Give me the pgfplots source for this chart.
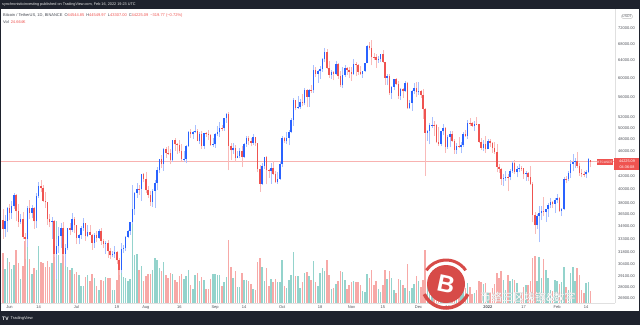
\documentclass[border=0pt]{standalone}
\usepackage{pgfplots}
\pgfplotsset{compat=1.18}
\usepackage{pgfplotstable}
\usepackage{fontspec}
\setmainfont{Liberation Sans}
\newfontfamily\cjk{Noto Sans CJK SC}
\definecolor{tvup}{HTML}{2962FF}
\definecolor{tvdn}{HTML}{EF5350}
\definecolor{vupl}{HTML}{94D3CC}
\definecolor{vdnl}{HTML}{F7A9A7}
\definecolor{tvdark}{HTML}{1E222D}
\definecolor{tvtext}{HTML}{131722}

\pgfplotstableread{
d o h l c v u
-4 38437 38856 34684 35672 144 0
-3 35672 37235 33379 34608 98 0
-2 34608 36400 33520 35658 68 1
-1 35658 37499 34154 37294 89 1
0 37294 37896 35667 36687 81 0
1 36687 38237 35920 37555 68 1
2 37555 39476 37171 39188 75 1
3 39188 39289 35555 36856 104 0
4 36856 37916 34800 35521 78 0
5 35521 36481 35222 35796 47 1
6 35796 36790 33350 33552 73 0
7 33552 34069 31000 33380 123 0
8 33380 37534 32396 37389 111 1
9 37389 38400 35800 36694 86 0
10 36694 37680 35936 37313 57 1
11 37313 37438 34600 35546 70 0
12 35546 39380 34757 39020 66 1
13 39020 41064 38730 40516 113 1
14 40516 41330 39506 40144 80 0
15 40144 40528 38116 38349 78 0
16 38349 39559 37365 38092 72 0
17 38092 38202 35129 35820 83 0
18 35820 36457 34803 35483 72 0
19 35483 36137 33336 35600 79 1
20 35600 35750 31251 31608 131 0
21 31608 33298 28805 32509 162 1
22 32509 34881 31683 33678 94 1
23 33678 35298 32286 34663 79 1
24 34663 35500 31275 31594 97 0
25 31594 32730 30151 32243 84 1
26 32243 34749 31973 34700 71 1
27 34700 35297 33862 34494 65 0
28 34494 36600 34225 35911 69 1
29 35911 36100 34017 35045 57 0
30 35045 35057 32711 33504 61 0
31 33504 33977 32699 33787 55 1
32 33787 34945 33316 34669 34 1
33 34669 35967 34357 35287 33 1
34 35287 35293 33125 33690 52 0
35 33690 35118 33532 34220 55 1
36 34220 35059 33777 33863 44 0
37 33863 33929 32077 32875 57 0
38 32875 34100 32261 33815 50 1
39 33815 34262 33005 33502 33 0
40 33502 34592 33332 34259 26 1
41 34259 34679 32658 33087 45 0
42 33087 33340 32203 32729 44 0
43 32729 33115 31600 32820 52 1
44 32820 33185 31133 31880 49 0
45 31880 32249 31020 31384 49 0
46 31384 31936 31165 31521 26 1
47 31521 32435 31109 31778 26 1
48 31778 31899 30408 30839 45 0
49 30839 31063 29278 29790 72 0
50 29790 32858 29482 32144 88 1
51 32144 32591 31708 32287 52 1
52 32287 33650 31925 33634 50 1
53 33634 34500 33401 34258 43 1
54 34258 35398 33851 35425 48 1
55 35425 40550 35205 37208 163 1
56 37208 39542 36383 39457 95 1
57 39457 40900 38772 40019 97 1
58 40019 40640 39200 40016 66 0
59 40016 42316 38313 42206 73 1
60 42206 42448 41000 41462 44 0
61 41462 42599 39422 39846 54 0
62 39846 40459 38690 39147 58 0
63 39147 39780 37642 38207 58 0
64 38207 39969 37508 39723 66 1
65 39723 41350 37332 40867 88 1
66 40867 43392 39853 42836 84 1
67 42836 44700 42446 44614 70 1
68 44614 45310 43261 43792 64 0
69 43792 46454 42779 46285 80 1
70 46285 46700 44800 45579 55 0
71 45579 46743 45342 45541 50 0
72 45541 46218 43770 44399 60 0
73 44399 47886 44217 47800 57 1
74 47800 48144 45971 47068 46 0
75 47068 47372 45500 46974 41 0
76 46974 47889 45600 45901 53 0
77 45901 47160 44376 44695 57 0
78 44695 46000 44203 44705 47 1
79 44705 47033 43927 46760 54 1
80 46760 49382 46622 49322 66 1
81 49322 49757 48263 48821 35 0
82 48821 49500 48000 49239 27 1
83 49239 50500 49029 49507 55 1
84 49507 49863 47600 47674 60 0
85 47674 49277 47122 48973 43 1
86 48973 49380 46315 46843 52 0
87 46843 49150 46364 49069 46 1
88 49069 49309 48370 48895 27 0
89 48895 49667 47801 48768 27 0
90 48768 48888 46854 46970 47 0
91 46970 48246 46700 47100 58 1
92 47100 49156 46513 48810 57 1
93 48810 50401 48584 49246 55 1
94 49246 51000 48316 49999 56 1
95 49999 50558 49400 49915 34 0
96 49915 51900 49500 51756 42 1
97 51756 52780 50969 52663 51 1
98 52663 52920 42843 46863 124 0
99 46863 47340 44412 46048 72 0
100 46048 47399 45513 46395 50 1
101 46395 47034 44132 44851 64 0
102 44851 45970 44722 45172 31 1
103 45172 46460 44742 46026 32 1
104 46026 46876 43370 44940 60 0
105 44940 47250 44750 47112 45 1
106 47112 48500 46700 48122 45 1
107 48122 48500 47045 47737 43 0
108 47737 48176 46750 47299 37 0
109 47299 48843 47050 48292 27 1
110 48292 48372 46829 47242 25 0
111 47242 47358 42500 42987 80 0
112 42987 43639 39600 40712 88 0
113 40712 44000 40565 43574 71 1
114 43574 44978 43063 44895 43 1
115 44895 45200 40675 42839 69 0
116 42839 42971 41646 42716 34 0
117 42716 43937 40803 43208 48 1
118 43208 44350 42098 42236 42 0
119 42236 42787 40888 41035 47 0
120 41035 42636 40753 41564 42 1
121 41564 44141 41410 43790 42 1
122 43790 48495 43283 48116 85 1
123 48116 48360 47400 47711 34 0
124 47711 49300 47119 48200 30 1
125 48200 49536 46891 49225 45 1
126 49225 51886 49000 51472 55 1
127 51472 55750 50382 55315 101 1
128 55315 55332 53357 53785 54 0
129 53785 56100 53617 53951 53 1
130 53951 55490 53661 54950 30 1
131 54950 56561 54080 54660 42 0
132 54660 57839 54415 57471 60 1
133 57471 57680 53879 56006 62 0
134 56006 57580 54000 57368 54 1
135 57368 58532 56819 57347 46 0
136 57347 62933 56850 61672 82 1
137 61672 62378 60150 60875 42 0
138 60875 61720 58963 61529 34 1
139 61529 62695 59844 62036 60 1
140 62036 64486 61322 64262 69 1
141 64262 67000 63481 65992 63 1
142 65992 66639 62000 62210 84 0
143 62210 63732 60000 60693 56 0
144 60693 61750 59678 61300 27 1
145 61300 61490 59510 60853 30 0
146 60853 63710 60650 63078 37 1
147 63078 63293 59817 60329 43 0
148 60329 61497 58000 58413 63 0
149 58413 62499 57820 60575 61 1
150 60575 62980 60174 62253 46 1
151 62253 62359 60673 61859 27 0
152 61859 62405 59945 61300 35 0
153 61300 62437 59405 60912 41 0
154 60912 64270 60624 63219 44 1
155 63219 63500 60382 62897 41 0
156 62897 63086 60677 61395 41 0
157 61395 62595 60721 60937 36 0
158 60937 61560 60050 61470 24 1
159 61470 63287 61322 63273 21 1
160 63273 67789 63273 67525 58 1
161 67525 68524 66382 66947 50 0
162 66947 69000 62822 64882 66 0
163 64882 65600 64100 64775 35 0
164 64775 65500 62278 64122 44 0
165 64122 64990 63400 64380 27 1
166 64380 65550 63577 65520 22 1
167 65520 66401 63400 63607 35 0
168 63607 63617 58574 60058 65 0
169 60058 60840 58373 60345 47 1
170 60345 60976 56474 56892 63 0
171 56892 58320 55600 58052 49 1
172 58052 59845 57353 59708 25 1
173 59708 60050 58486 58622 20 0
174 58622 59266 55610 56248 48 0
175 56248 57875 55317 57541 46 1
176 57541 57735 55837 57139 36 0
177 57139 59398 57000 58960 30 1
178 58960 59150 53500 53727 77 0
179 53727 55280 53610 54721 24 1
180 54721 57445 53256 57274 30 1
181 57274 58865 56666 57776 38 1
182 57776 59176 55875 56950 54 0
183 56950 59053 56458 57184 44 1
184 57184 57375 55777 56480 31 0
185 56480 57600 51680 53601 46 0
186 53601 53859 42000 49152 105 0
187 49152 49699 47727 49396 39 1
188 49396 50891 47100 50441 54 1
189 50441 51936 50039 50588 40 1
190 50588 51200 48600 50471 37 0
191 50471 50797 47320 47545 43 0
192 47545 50125 46852 47140 43 0
193 47140 49485 46751 49389 26 1
194 49389 50777 48638 50053 21 1
195 50053 50189 45672 46702 48 0
196 46702 48700 46290 48343 42 1
197 48343 49500 46547 48864 54 1
198 48864 49436 47511 47632 34 0
199 47632 47995 45456 46131 49 0
200 46131 47313 45500 46834 29 1
201 46834 48300 46406 46681 26 0
202 46681 47537 45558 46914 38 1
203 46914 49328 46630 48890 39 1
204 48890 49576 48421 48588 30 0
205 48588 51375 48049 50838 39 1
206 50838 51810 50391 50820 31 0
207 50820 51156 50237 50400 18 0
208 50400 51280 49412 50775 20 1
209 50775 52088 50449 50701 26 0
210 50701 50704 47313 47543 44 0
211 47543 48139 46096 46464 42 0
212 46464 47900 45900 47120 37 1
213 47120 48548 45678 46216 40 0
214 46216 47954 46208 47722 21 1
215 47722 47990 46654 47287 19 0
216 47287 47570 45697 46446 30 0
217 46446 47505 45502 45833 38 0
218 45833 47070 42500 43425 60 0
219 43425 43817 42431 43082 50 0
220 43082 43145 40610 41566 64 0
221 41566 42300 40501 41679 46 1
222 41679 42786 41200 41864 25 1
223 41864 42249 39650 41822 55 0
224 41822 43100 41268 42736 44 1
225 42736 44322 42451 43949 47 1
226 43949 44459 42311 42592 46 0
227 42592 43447 41725 43099 39 1
228 43099 43800 42555 43177 20 1
229 43177 43476 42691 43113 20 0
230 43113 43180 41541 42250 31 0
231 42250 42691 41250 42375 35 1
232 42375 42576 41138 41744 36 0
233 41744 43505 40553 40680 43 0
234 40680 41100 35440 36445 89 0
235 36445 36835 34009 35071 92 0
236 35071 36499 34601 36244 43 1
237 36244 37550 32917 36660 91 1
238 36660 37545 35701 36958 49 1
239 36958 38919 36234 36810 86 0
240 36810 37234 35507 37160 66 1
241 37160 38000 36155 37717 50 1
242 37717 38720 37268 38166 26 1
243 38166 38359 37351 37881 24 0
244 37881 38744 36632 38467 46 1
245 38467 39265 38000 38744 43 1
246 38744 38834 36832 36952 37 0
247 36952 37387 36250 37154 42 1
248 37154 41772 37052 41500 71 1
249 41500 41913 40844 41441 32 0
250 41441 42656 41116 42412 26 1
251 42412 44500 41645 43841 60 1
252 43841 45492 42666 44118 72 1
253 44118 44799 43117 44339 44 1
254 44339 45821 43187 43565 69 0
255 43565 43920 42000 42407 55 0
256 42407 43000 41748 42244 25 0
257 42244 42760 41870 42197 19 0
258 42197 42876 41570 42586 39 1
259 42586 44771 42428 44575 42 1
260 44544.85 44549.97 43307 44225.09 24.664 0
}\btc

\pgfplotsset{
  upsel/.style={restrict expr to domain={\thisrow{u}}{0.5:1.5}},
  dnsel/.style={restrict expr to domain={\thisrow{u}}{-0.5:0.5}},
  tvframe/.style={at={(0pt,22pt)}, anchor=south west, scale only axis,
    width=615pt, height=294pt, xmin=-4.25, xmax=270.9},
  candle/.style 2 args={draw=none, mark=none, forget plot,
    error bars/.cd, y dir=plus, y explicit, error mark=none,
    error bar style={line width=#1, draw=#2, solid}},
}

\begin{document}
\begin{tikzpicture}[x=1pt,y=1pt]
\useasboundingbox (0pt,0pt) rectangle (640pt,325pt);
\fill[white] (0pt,0pt) rectangle (640pt,325pt);

% ---- volume overlay ----
\begin{axis}[tvframe, ymin=0, ymax=580, hide axis]
\addplot[ycomb, line width=1.5pt, color=vupl, mark=none, upsel] table[x=d,y=v]{\btc};
\addplot[ycomb, line width=1.5pt, color=vdnl, mark=none, dnsel] table[x=d,y=v]{\btc};
\end{axis}

% ---- price axis ----
\begin{axis}[tvframe, ymode=log, ymin=26390, ymax=77180,
  axis x line*=bottom, axis y line*=right,
  axis line style={draw=black!12, -, line width=0.5pt},
  major tick length=0pt,
  ytick={72000,68000,64000,60000,56000,52000,50000,48000,46000,42000,40000,38000,36500,34900,33300,31800,30400,29100,28000,26900},
  yticklabels={72000.00,68000.00,64000.00,60000.00,56000.00,52000.00,50000.00,48000.00,46000.00,42000.00,40000.00,38000.00,36500.00,34900.00,33300.00,31800.00,30400.00,29100.00,28000.00,26900.00},
  yticklabel style={font=\fontsize{4}{5}\selectfont, text=tvtext!75, anchor=west, inner sep=0pt, xshift=3pt},
  xtick={0,13,30,48,61,76,92,105,122,139,153,167,183,196,214,230,245,258},
  xticklabels={Jun,14,Jul,19,Aug,16,Sep,14,Oct,18,Nov,15,Dec,14,\textbf{2022},17,Feb,14},
  xticklabel style={font=\fontsize{4}{5}\selectfont, text=tvtext!75, anchor=north, inner sep=0pt, yshift=-2.5pt},
]
\addplot[color=tvdn!45, line width=0.4pt, mark=none, solid] coordinates {(-4.25,44225.09) (270.9,44225.09)};
% wicks
\addplot[upsel, candle={0.5pt}{tvup!40}]
  table[x=d, y=l, y error expr=\thisrow{h}-\thisrow{l}]{\btc};
\addplot[dnsel, candle={0.5pt}{tvdn!40}]
  table[x=d, y=l, y error expr=\thisrow{h}-\thisrow{l}]{\btc};
% bodies
\addplot[upsel, candle={1.5pt}{tvup}]
  table[x=d, y=o, y error expr=\thisrow{c}-\thisrow{o}]{\btc};
\addplot[dnsel, candle={1.5pt}{tvdn}]
  table[x=d, y=c, y error expr=\thisrow{o}-\thisrow{c}]{\btc};
\end{axis}

% ---- price tags ----
\fill[tvdn] (597pt,160pt) rectangle (613pt,166pt);
\node[text=white, font=\fontsize{3.2}{4}\selectfont, inner sep=0pt] at (605pt,163pt) {BTCUSDT};
\fill[tvdn] (614pt,155pt) rectangle (640pt,167pt);
\node[text=white, font=\fontsize{3.8}{4}\selectfont, inner sep=0pt] at (627pt,163.5pt) {44225.09};
\node[text=white, font=\fontsize{3.8}{4}\selectfont, inner sep=0pt] at (627pt,158.3pt) {04:36:08};
\node[draw=black!25, rounded corners=1pt, text=tvtext!70, font=\fontsize{3.5}{4}\selectfont, inner sep=0.6pt] at (627pt,308.5pt) {USDT};

% ---- watermark ----
\fill[tvdn!90!black] (446pt,41pt) circle (19pt);
\node[text=white, font=\bfseries\fontsize{24}{24}\selectfont, rotate=-12] at (446pt,41pt) {B};
\draw[tvdn!90!black, line width=3pt] (446pt,41pt) ++(35:24pt) arc[start angle=35, end angle=145, radius=24pt];
\draw[tvdn!90!black, line width=3.5pt] (446pt,41pt) ++(205:24pt) arc[start angle=205, end angle=335, radius=24pt];
\node[text=black!30, font=\cjk\fontsize{11}{11}\selectfont, anchor=west, inner sep=0pt] at (480.5pt,27.5pt) {币络三区块链\&数字};
\node[text=white, font=\cjk\fontsize{11}{11}\selectfont, anchor=west, inner sep=0pt] at (480pt,28pt) {币络三区块链\&数字};

% ---- top bar and legend ----
\fill[tvdark] (0pt,316pt) rectangle (640pt,325pt);
\node[anchor=west, text=white!80!gray, font=\fontsize{3.8}{4}\selectfont, inner sep=0pt] at (2pt,320.5pt) {synchronisticinvesting published on TradingView.com, Feb 16, 2022 19:23 UTC};
\node[anchor=west, font=\fontsize{4}{5}\selectfont, inner sep=0pt] at (3pt,309.5pt) {\textcolor{tvtext!80}{Bitcoin / TetherUS, 1D, BINANCE}\enspace \textcolor{tvtext!80}{O}\textcolor{tvdn}{44544.85}\enspace \textcolor{tvtext!80}{H}\textcolor{tvdn}{44549.97}\enspace \textcolor{tvtext!80}{L}\textcolor{tvdn}{43307.00}\enspace \textcolor{tvtext!80}{C}\textcolor{tvdn}{44225.09}\enspace \textcolor{tvdn}{\textminus319.77 (\textminus0.72\%)}};
\node[anchor=west, font=\fontsize{4}{5}\selectfont, inner sep=0pt] at (3pt,303pt) {\textcolor{tvtext!80}{Vol}\enspace \textcolor{tvdn}{24.664K}};

% ---- bottom bar ----
\fill[tvdark] (0pt,0pt) rectangle (640pt,14pt);
\node[anchor=west, text=white, font=\bfseries\fontsize{5}{5}\selectfont, inner sep=0pt] at (2pt,6.5pt) {TV};
\node[anchor=west, text=white!85!gray, font=\fontsize{4}{5}\selectfont, inner sep=0pt] at (10.5pt,6.5pt) {TradingView};
\draw[tvdark, line width=1pt] (639.5pt,0pt) -- (639.5pt,325pt);
\draw[tvdark, line width=0.6pt] (0.3pt,0pt) -- (0.3pt,325pt);
\end{tikzpicture}
\end{document}
